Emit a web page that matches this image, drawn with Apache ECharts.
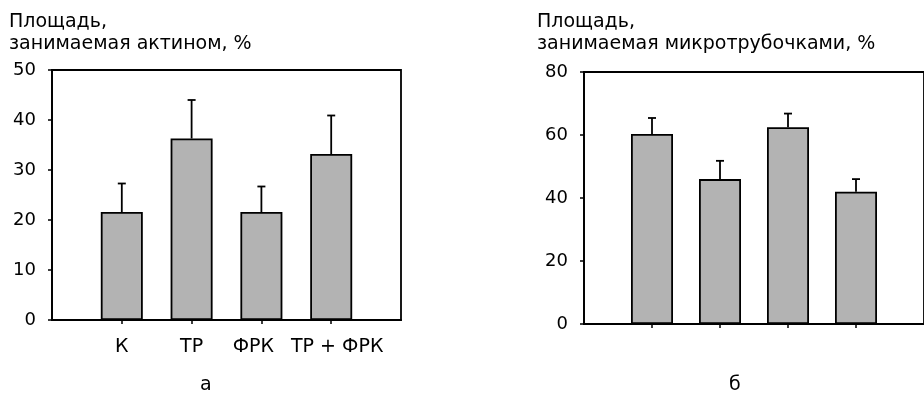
<!DOCTYPE html>
<html>
<head>
<meta charset="utf-8">
<script src="https://cdn.jsdelivr.net/npm/echarts@6/dist/echarts.min.js"></script>
<style>
  html, body { margin: 0; padding: 0; background: #fff; }
  #chart { width: 924px; height: 394px; }
</style>
</head>
<body>
<div id="chart"></div>
<script>
// данные
const categories = ['К', 'ТР', 'ФРК', 'ТР + ФРК']
const actinMean = [21.6, 36.3, 21.6, 33.2]
const actinUpper = [27.3, 44.0, 26.7, 40.9]
const tubuleMean = [60.3, 46.0, 62.5, 42.0]
const tubuleUpper = [65.4, 51.8, 66.8, 46.0]
const ticksA = [0, 10, 20, 30, 40, 50]
const ticksB = [0, 20, 40, 60, 80]

const FONT = 'DejaVu Sans'
const BLACK = '#000'

// Excel раздвинул две правые подписи, чтобы не слипались
const labelPadding = [
  [0, 0, 0, 0],
  [0, 0, 0, 0],
  [0, 16, 6, 0],
  [0, 0, 0, 12]
]

// пустые категории по краям, чтобы столбики стояли как в Excel
const axisCats = [''].concat(
  categories.map((c, i) => ({ value: c, textStyle: { padding: labelPadding[i] } })),
  [' ']
)
const pad = arr => [null].concat(arr, [null])
const errData = (mean, upper) => mean.map((m, i) => [i + 1, m, upper[i]])

function xAxis(gridIndex, showLabels) {
  return {
    type: 'category',
    gridIndex: gridIndex,
    data: axisCats,
    boundaryGap: false,
    axisLine: { lineStyle: { color: BLACK, width: 1.8 } },
    axisTick: {
      show: true,
      length: 4,
      interval: (idx, val) => val.trim() !== '',
      lineStyle: { color: BLACK, width: 1.5 }
    },
    axisLabel: {
      show: showLabels,
      interval: 0,
      margin: 18,
      color: BLACK,
      fontFamily: FONT,
      fontSize: 19
    },
    splitLine: { show: false }
  }
}

function yAxis(gridIndex, ticks) {
  return {
    type: 'value',
    gridIndex: gridIndex,
    min: ticks[0],
    max: ticks[ticks.length - 1],
    interval: ticks[1] - ticks[0],
    axisLine: { show: true, lineStyle: { color: BLACK, width: 1.8 } },
    axisTick: { show: true, length: 4, lineStyle: { color: BLACK, width: 1.5 } },
    axisLabel: { margin: 16, color: BLACK, fontFamily: FONT, fontSize: 18 },
    splitLine: { show: false }
  }
}

function bars(idx, values) {
  return {
    type: 'bar',
    xAxisIndex: idx,
    yAxisIndex: idx,
    barWidth: 42,
    silent: true,
    itemStyle: { color: '#b3b3b3', borderColor: BLACK, borderWidth: 1.8 },
    data: pad(values),
    z: 2
  }
}

function errors(idx, mean, upper) {
  return {
    type: 'custom',
    xAxisIndex: idx,
    yAxisIndex: idx,
    silent: true,
    encode: { x: 0, y: [1, 2] },
    data: errData(mean, upper),
    z: 3,
    renderItem: function(params, api) {
      const base = api.coord([api.value(0), api.value(1)])
      const top = api.coord([api.value(0), api.value(2)])
      const style = { stroke: BLACK, lineWidth: 1.8 }
      return {
        type: 'group',
        children: [
          { type: 'line', shape: { x1: base[0], y1: base[1], x2: top[0], y2: top[1] }, style: style },
          { type: 'line', shape: { x1: top[0] - 4, y1: top[1], x2: top[0] + 4, y2: top[1] }, style: style }
        ]
      }
    }
  }
}

const chart = echarts.init(document.getElementById('chart'))
const titleStyle = { color: BLACK, fontFamily: FONT, fontSize: 19, fontWeight: 'normal', lineHeight: 22 }

chart.setOption({
  animation: false,
  backgroundColor: '#fff',
  title: [
    { text: 'Площадь,\nзанимаемая актином, %', left: 9, top: 11, padding: 0, textStyle: titleStyle },
    { text: 'Площадь,\nзанимаемая микротрубочками, %', left: 537, top: 11, padding: 0, textStyle: titleStyle },
    { text: 'а', left: 200, top: 374, padding: 0, textStyle: titleStyle },
    { text: 'б', left: 729, top: 374, padding: 0, textStyle: titleStyle }
  ],
  grid: [
    { left: 52, top: 70, width: 349, height: 250, show: true, borderColor: BLACK, borderWidth: 1.8 },
    { left: 584, top: 72, width: 347, height: 252, show: true, borderColor: BLACK, borderWidth: 1.8 }
  ],
  xAxis: [xAxis(0, true), xAxis(1, false)],
  yAxis: [yAxis(0, ticksA), yAxis(1, ticksB)],
  series: [
    bars(0, actinMean),
    errors(0, actinMean, actinUpper),
    bars(1, tubuleMean),
    errors(1, tubuleMean, tubuleUpper)
  ]
})
</script>
</body>
</html>
